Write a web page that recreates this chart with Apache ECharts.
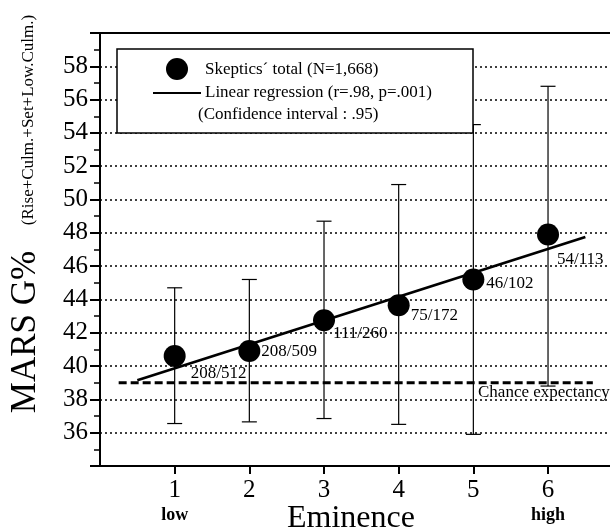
<!DOCTYPE html>
<html>
<head>
<meta charset="utf-8">
<script src="https://cdn.jsdelivr.net/npm/echarts@6/dist/echarts.min.js"></script>
<style>
  html, body { margin: 0; padding: 0; background: #fff; }
  #chart { width: 610px; height: 531px; }
</style>
</head>
<body>
<div id="chart"></div>
<script>
// eminence groups 1 (low) .. 6 (high)
const eminence = [1, 2, 3, 4, 5, 6];
const marsG = [40.6, 40.9, 42.75, 43.65, 45.2, 47.9];
const ciLow = [36.55, 36.65, 36.85, 36.5, 35.9, 38.8];
const ciHigh = [44.7, 45.2, 48.7, 50.9, 54.5, 56.8];
const hits = [208, 208, 111, 75, 46, 54];
const totals = [512, 509, 260, 172, 102, 113];
const regression = [[0.5, 39.15], [6.5, 47.75]];
const chance = [[0.25, 39], [6.6, 39]];
const xNames = { 1: 'low', 6: 'high' };

const serif = 'Liberation Serif';
// the original plot runs past the right edge of the picture
const xMax = 6.83;
// where each n/N label sits relative to its point
const labelNudges = [[16, 17], [12, 0], [9, 13], [12, 10], [13, 4], [9, 25]];

const chart = echarts.init(document.getElementById('chart'));

const txt = (x, y, text, size, extra) => ({
  type: 'text', x, y, z: 20,
  style: Object.assign({ text, font: size + 'px "Liberation Serif"', fill: '#000', verticalAlign: 'middle' }, extra || {})
});

chart.setOption({
  backgroundColor: '#fff',
  animation: false,
  grid: { left: 100, top: 33, right: 0, bottom: 65 },
  xAxis: [
    {
      type: 'value', min: 0, max: xMax, interval: 1,
      axisLine: { lineStyle: { color: '#000', width: 2 } },
      axisTick: { length: 8, customValues: eminence, lineStyle: { color: '#000', width: 2 } },
      splitLine: { show: false },
      axisLabel: {
        customValues: eminence,
        margin: 11,
        formatter: v => '{n|' + v + '}\n{s|' + (xNames[v] || '') + '}',
        rich: {
          n: { fontFamily: serif, fontSize: 25, color: '#000', lineHeight: 26 },
          s: { fontFamily: serif, fontSize: 18, fontWeight: 'bold', color: '#000', lineHeight: 24 }
        }
      }
    },
    {
      // top frame line
      type: 'value', position: 'top', min: 0, max: xMax,
      axisLine: { lineStyle: { color: '#000', width: 2 } },
      axisTick: { show: false }, axisLabel: { show: false }, splitLine: { show: false }
    }
  ],
  yAxis: {
    type: 'value', min: 34, max: 60, interval: 2,
    axisLine: { show: true, lineStyle: { color: '#000', width: 2 } },
    axisTick: { show: true, length: 10, lineStyle: { color: '#000', width: 2 } },
    minorTick: { show: true, splitNumber: 2, length: 6, lineStyle: { color: '#000', width: 1.5 } },
    splitLine: { show: true, lineStyle: { color: '#000', width: 1.5, type: [2, 3] } },
    axisLabel: {
      margin: 12, fontFamily: serif, fontSize: 25, color: '#000',
      formatter: v => (v === 34 || v === 60) ? '' : String(v)
    }
  },
  series: [
    {
      type: 'line', data: chance, symbol: 'none', z: 3,
      lineStyle: { color: '#000', width: 3, type: [8, 4] }
    },
    {
      type: 'custom', z: 3,
      data: eminence.map((x, i) => [x, ciLow[i], ciHigh[i]]),
      encode: { x: 0, y: [1, 2] },
      renderItem: (params, api) => {
        const top = api.coord([api.value(0), api.value(2)]);
        const bot = api.coord([api.value(0), api.value(1)]);
        const w = 7.5;
        const st = { stroke: '#000', lineWidth: 1.2 };
        return {
          type: 'group',
          children: [
            { type: 'line', shape: { x1: top[0], y1: top[1], x2: bot[0], y2: bot[1] }, style: st },
            { type: 'line', shape: { x1: top[0] - w, y1: top[1], x2: top[0] + w, y2: top[1] }, style: st },
            { type: 'line', shape: { x1: bot[0] - w, y1: bot[1], x2: bot[0] + w, y2: bot[1] }, style: st }
          ]
        };
      }
    },
    {
      type: 'line', data: regression, symbol: 'none', z: 4,
      lineStyle: { color: '#000', width: 2.8 }
    },
    {
      type: 'scatter', symbolSize: 22, z: 5,
      itemStyle: { color: '#000', opacity: 1 },
      data: eminence.map((x, i) => ({
        value: [x, marsG[i]],
        label: { offset: labelNudges[i] }
      })),
      label: {
        show: true, position: 'inside', align: 'left', verticalAlign: 'middle',
        fontFamily: serif, fontSize: 17, color: '#000',
        formatter: p => hits[p.dataIndex] + '/' + totals[p.dataIndex]
      }
    }
  ],
  graphic: [
    { type: 'rect', z: 15, shape: { x: 117, y: 49, width: 356, height: 84 }, style: { fill: '#fff', stroke: '#000', lineWidth: 1.5 } },
    { type: 'circle', z: 20, shape: { cx: 177, cy: 69, r: 11 }, style: { fill: '#000' } },
    { type: 'line', z: 20, shape: { x1: 153, y1: 93, x2: 201, y2: 93 }, style: { stroke: '#000', lineWidth: 2 } },
    txt(205, 70, 'Skeptics\u00b4 total (N=1,668)', 17),
    txt(205, 93, 'Linear regression (r=.98, p=.001)', 17),
    txt(198, 115, '(Confidence interval : .95)', 17),
    txt(478, 393, 'Chance expectancy', 17),
    txt(351, 519, 'Eminence', 32, { align: 'center' }),
    Object.assign(txt(26, 332, 'MARS G%', 35, { align: 'center' }), { rotation: Math.PI / 2 }),
    Object.assign(txt(29, 120, '(Rise+Culm.+Set+Low.Culm.)', 17, { align: 'center' }), { rotation: Math.PI / 2 })
  ]
});
</script>
</body>
</html>
